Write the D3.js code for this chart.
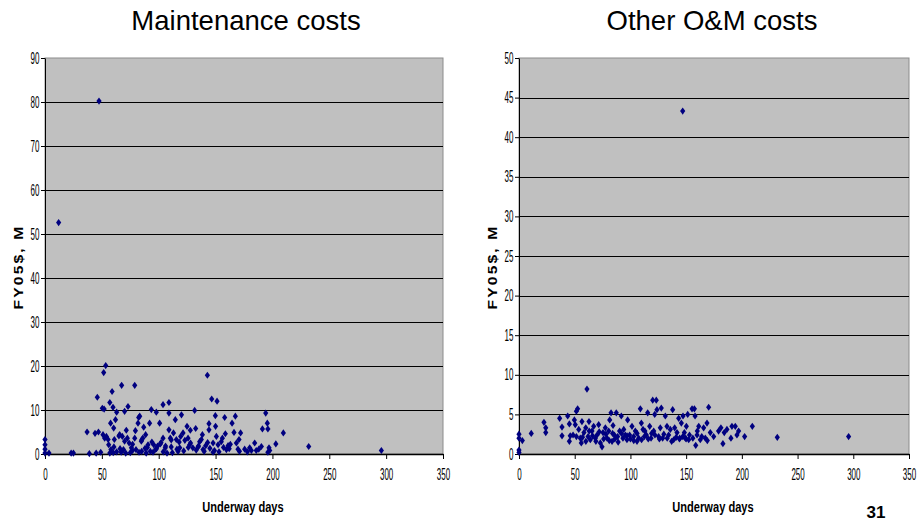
<!DOCTYPE html>
<html>
<head>
<meta charset="utf-8">
<script src="https://cdn.jsdelivr.net/npm/d3@7"></script>
<style>
  body { margin: 0; background: #fff; }
  svg text { font-family: "Liberation Sans", Arial, sans-serif; }
</style>
</head>
<body>
<div id="chart"></div>
<script>
// underway days vs FY05$ (M)
var maintDays = [0,0,0,0,3.5,12,47.5,23,25,37,39,44,46,47,45,49,
  51.6,53.4,50.4,52,51,52.5,54,55.5,57,57.7,59,59.8,60.4,61,62,63,56,57,58,60.6,
  67.4,65.7,68,70,71.5,73,72.4,74,67,69,71,76,77,
  78.9,79.5,78.9,81.8,83.3,82.4,84.7,86,86.8,88.5,90.6,92,93.5,97.9,95.6,97.3,80,82.7,89,92.6,
  100.8,101.4,103.8,103.8,105.8,107.3,109,109,109,110.2,111,113,114.6,115.5,117,118.5,120,119.3,121.4,124.9,125.8,127.2,127.8,130,131.6,132.5,134.6,
  137.5,138.4,139,141.3,142.8,144.2,144.2,146.6,147.8,147.8,149.8,150,150.7,151.3,152.2,156,158,159.5,161,158.6,164.5,166.2,167.4,168.3,169.7,170.6,172,
  175.6,180,181.5,184.4,185.8,190.3,191.2,194.1,195.5,196,197,197.6,203,209.6,231.9,295.8,
  60,63,66,75,85,88,95,99,104,112,116,122,126,133,136,140,145,149,153,157,163,171,178,188,196,
  65,70,77,85,90,94,98,102,106,111,118,123,128,135,143,155,162];
var maintCost = [3.3,2.1,1.1,0.2,0.2,52.6,80.2,0.2,0.2,5,0.1,4.7,12.9,5,0.2,0.4,
  18.5,20.1,10.4,10.2,4.4,3.6,4,3.3,11.7,7,14.2,10.6,5.9,3.3,7.8,9.5,2.1,0.2,1,1.6,
  15.6,4.4,4,9.7,5.4,10.8,3.6,2.5,0.4,1,0.2,1.4,0.8,
  15.6,5.3,3.6,7,8.6,8.3,2.9,3.6,6.1,4.4,2.1,7,10.1,9.5,2.1,1.1,1,0.4,0.2,0.6,
  7,2.3,11.2,3.6,1.4,0.2,11.7,9.3,5.5,3.6,1.6,4.8,7.8,3.3,0.6,1.4,8.9,4,4.8,6.3,3.6,2.1,5.4,1.4,9.9,5.8,1.6,
  3.3,4.4,1,1.9,17.9,6.9,5.5,12.5,0.4,2.5,8.7,6.3,4,12,2.1,3.6,8.3,1,1.9,4.6,7,4.9,8.6,2.5,1.1,3.3,4.8,
  1.1,1.4,0.8,2.5,0.8,1.7,5.7,9.3,7,5.7,1.4,0.8,2.3,4.8,1.7,0.8,
  0.3,0.5,1.2,0.3,0.6,1.3,0.4,1.8,0.5,0.3,1.1,0.7,1.5,0.9,2.8,0.6,1.3,0.8,0.5,1.5,2.2,0.6,0.5,1.1,0.4,
  4.1,2.9,2.2,3.2,1.5,2.7,1.2,2.6,1.8,3.2,2.7,3.1,2.5,1.8,2.6,2.8,1.2];

var omDays = [0,0,0,0,3,11,22.4,24,24,
  36.5,38.6,38.6,43.7,45.2,45.2,46,48.5,49.7,50.5,51.5,52.6,51.5,53.6,55,55.9,56.5,58.3,59.9,61,62,62.8,64,65.5,67,68.5,70,71.5,73,74.5,75.4,77.5,79,80.5,81.4,82.6,83.5,84.4,85.6,87.3,88.5,90.3,91.8,93.3,95.4,96.9,97.5,99.3,
  101.4,102.9,104.4,105.9,107.4,108.9,109.8,111.3,112.5,114.3,115.5,117.3,118.5,120,120.9,121.8,123.2,123.8,125.3,126.8,127.7,128.9,131.3,132.8,134.3,135.8,137.9,138.8,139.7,141.8,143.3,144.2,145.7,146.9,147.2,148.4,149.3,150.2,151.4,152.3,155.3,157.4,158,158.6,159.8,161.3,162.7,165.7,167.2,168.7,170.2,171.7,174.7,
  179.1,181.2,183,184.2,186.6,190.2,191.1,194.1,195.6,197.1,202.5,209.4,231.8,295.8,
  57,60,63,66,69,72,76,78,81,84,86,89,92,94,97,100,103,106,110,113,116,119,122,126,130,133,137,141,144,147,150,153,156,160,164,169];
var omCost = [2.5,2,0.5,0.2,1.7,2.6,4,3.3,2.7,
  4.5,3.4,2.3,4.8,3.8,1.6,2.3,2.4,4.3,3.7,5.4,5.7,2.2,3.1,2,1.4,4.1,2.7,3.3,8.2,2.2,4.1,1.8,2.9,3.5,2,2.4,3.7,1.4,0.9,2.7,3.3,2,2.9,4.3,5.2,1.6,3.6,2.4,5.2,2.2,2.9,4.8,2,2.4,1.8,4.3,2.4,
  3.5,2.2,2.9,1.6,2,5.7,3.9,3.1,2.2,2.4,5.2,3.5,2,6.8,2.9,5,6.8,5.6,2.2,3.3,5.8,2,4.8,3.5,2.4,3.1,5.6,1.8,3.3,2.7,4.5,2,3.9,43.3,4.8,2.7,2,3.5,5,1.8,5.7,5.7,4.8,1.1,2.4,3.5,1.8,3.3,2,3.9,5.9,2.7,2.2,
  2.9,3.3,1.3,2.7,3.1,2,3.5,3.5,2.4,2.9,2.2,3.5,2.1,2.2,
  2.1,1.6,2.9,2.3,1.6,2.8,1.9,2.5,1.7,2.6,1.9,1.5,2.6,3.1,2.3,1.9,1.7,2.6,1.8,2.9,1.9,2.6,2.4,1.9,2.5,2,1.6,2.1,1.9,2.2,1.9,2.4,2,2.9,2.2,1.7];

var xTicks = [0,50,100,150,200,250,300,350];
var maintYTicks = [0,10,20,30,40,50,60,70,80,90];
var omYTicks = [0,5,10,15,20,25,30,35,40,45,50];

var svg = d3.select("#chart").append("svg")
  .attr("width", 917).attr("height", 523);

function drawPanel(p) {
  var x = d3.scaleLinear().domain([0, 350]).range([p.left, p.right]);
  var y = d3.scaleLinear().domain([0, p.yMax]).range([p.bottom, p.top]);

  // plot area
  svg.append("rect")
    .attr("x", p.left).attr("y", p.top)
    .attr("width", p.right - p.left).attr("height", p.bottom - p.top)
    .attr("fill", "#c0c0c0").attr("stroke", "#8c8c8c").attr("stroke-width", 1);

  // gridlines
  svg.append("g").selectAll("line")
    .data(p.yTicks.slice(1, -1))
    .enter().append("line")
    .attr("x1", p.left).attr("x2", p.right)
    .attr("y1", function(d) { return Math.round(y(d)) + 0.5; })
    .attr("y2", function(d) { return Math.round(y(d)) + 0.5; })
    .attr("stroke", "#000").attr("stroke-width", 1);

  // axes (labels squeezed like the narrow font in the original)
  var ya = svg.append("g")
    .attr("transform", "translate(" + p.left + ",0)")
    .call(d3.axisLeft(y).tickValues(p.yTicks).tickSize(4).tickSizeOuter(0));
  ya.select(".domain").attr("stroke", "#000");
  ya.selectAll("text")
    .attr("x", -11)
    .attr("transform", "scale(0.5,1)")
    .style("font-size", "16px").attr("fill", "#000");

  var xa = svg.append("g")
    .attr("transform", "translate(0," + p.bottom + ")")
    .call(d3.axisBottom(x).tickValues(xTicks).tickSize(5).tickSizeOuter(0));
  xa.select(".domain").attr("stroke", "#000").attr("stroke-width", 1.5);
  xa.selectAll("text")
    .attr("y", 15)
    .attr("transform", "scale(0.5,1)")
    .style("font-size", "16px").attr("fill", "#000");

  // points
  svg.append("g").selectAll("path")
    .data(p.xs.map(function(d, i) { return [d, p.ys[i]]; }))
    .enter().append("path")
    .attr("d", "M0,-3.6L2.6,0L0,3.6L-2.6,0Z")
    .attr("transform", function(d) { return "translate(" + x(d[0]) + "," + y(d[1]) + ")"; })
    .attr("fill", "#000080");

  // titles / labels
  svg.append("text")
    .attr("x", p.titleX).attr("y", 30)
    .attr("text-anchor", "middle")
    .style("font-size", "27.5px")
    .text(p.title);

  svg.append("text")
    .attr("transform", "translate(" + ((p.left + p.right) / 2 - 1) + ",512) scale(0.74,1)")
    .attr("text-anchor", "middle")
    .style("font-weight", "bold").style("font-size", "15px")
    .text("Underway days");

  svg.append("text")
    .attr("transform", "translate(" + p.ylabX + ",267) rotate(-90) scale(1.2,1)")
    .attr("text-anchor", "middle")
    .style("font-weight", "bold").style("font-size", "13px")
    .style("letter-spacing", "1.8px")
    .text("FY05$, M");
}

drawPanel({left: 45, right: 443, top: 58, bottom: 454, yMax: 90,
  yTicks: maintYTicks, xs: maintDays, ys: maintCost,
  title: "Maintenance costs", titleX: 246, ylabX: 23});
drawPanel({left: 519, right: 909, top: 58, bottom: 454, yMax: 50,
  yTicks: omYTicks, xs: omDays, ys: omCost,
  title: "Other O&M costs", titleX: 712, ylabX: 497});

svg.append("text")
  .attr("x", 876).attr("y", 518)
  .attr("text-anchor", "middle")
  .style("font-weight", "bold").style("font-size", "17px")
  .text("31");
</script>
</body>
</html>
